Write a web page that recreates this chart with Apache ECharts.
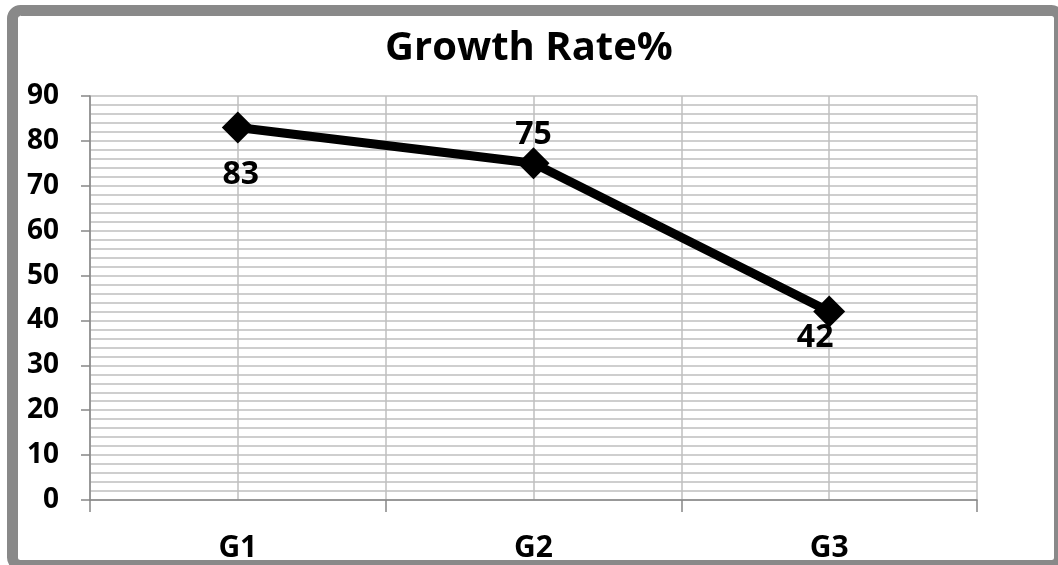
<!DOCTYPE html>
<html><head><meta charset="utf-8">
<script src="https://cdn.jsdelivr.net/npm/echarts@6/dist/echarts.min.js"></script>
<style>html,body{margin:0;padding:0;background:#fff}#c{width:1058px;height:565px}</style>
</head><body><div id="c"></div>
<script>
const title = 'Growth Rate%';
const categories = ['G1', 'G2', 'G3'];
const growthRate = [83, 75, 42];
const yTicks = { min: 0, max: 90, step: 10 };

const FONT = '"Open Sans", "Liberation Sans", sans-serif';
const labelStyle = [
  { position: 'bottom', distance: 15, offset: [3, 0] },
  { position: 'top', distance: 0, offset: [0, 4] },
  { position: 'bottom', distance: 0, offset: [-14, -6] }
];
const seriesData = growthRate.map((v, i) => ({
  value: v,
  label: labelStyle[i]
}));

const chart = echarts.init(document.getElementById('c'));
chart.setOption({
  animation: false,
  backgroundColor: '#fff',
  title: {
    text: title, left: 'center', top: 24,
    textStyle: { fontFamily: FONT, fontWeight: 'bold', fontSize: 40, color: '#000' }
  },
  grid: { left: 90, right: 81, top: 96, bottom: 65 },
  xAxis: [{
    type: 'category', data: categories, boundaryGap: true,
    axisLine: { lineStyle: { color: '#868686', width: 1.5 } },
    axisTick: { show: true, length: 12, lineStyle: { color: '#868686', width: 1.5 } },
    axisLabel: { margin: 33, fontFamily: FONT, fontWeight: 'bold', fontSize: 30, color: '#000' },
    splitLine: { show: false }
  }, {
    type: 'value', min: 0, max: categories.length * 2, interval: 1, position: 'top',
    axisLine: { show: false }, axisTick: { show: false }, axisLabel: { show: false },
    splitLine: { show: true, lineStyle: { color: '#bfbfbf', width: 1.5 } }
  }],
  yAxis: {
    type: 'value', min: yTicks.min, max: yTicks.max, interval: yTicks.step,
    axisLine: { show: true, lineStyle: { color: '#868686', width: 1.5 } },
    axisTick: { show: true, length: 9, lineStyle: { color: '#868686', width: 1.5 } },
    axisLabel: { margin: 31, fontFamily: FONT, fontWeight: 'bold', fontSize: 28, color: '#000' },
    splitLine: { show: true, lineStyle: { color: '#bfbfbf', width: 1.5 } },
    minorTick: { show: false, splitNumber: 5 },
    minorSplitLine: { show: true, lineStyle: { color: '#bfbfbf', width: 1.5 } }
  },
  series: [{
    type: 'line', xAxisIndex: 0, data: seriesData,
    symbol: 'diamond', symbolSize: 32,
    lineStyle: { color: '#000', width: 9 },
    itemStyle: { color: '#000' },
    label: { show: true, fontFamily: FONT, fontWeight: 'bold', fontSize: 32, color: '#000' },
    z: 5
  }],
  graphic: [{
    type: 'rect', silent: true, z: 100,
    shape: { x: 12.5, y: 10.5, width: 1047, height: 555, r: 8 },
    style: { fill: 'none', stroke: '#898989', lineWidth: 11 }
  }]
});
</script></body></html>
